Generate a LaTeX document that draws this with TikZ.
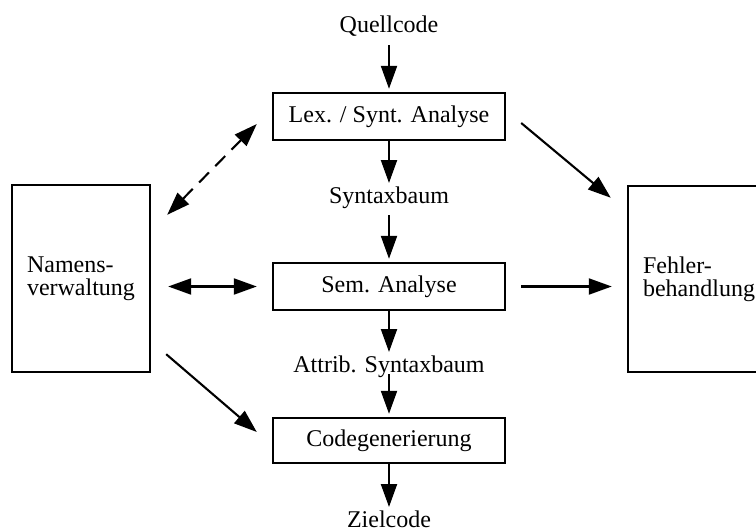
\documentclass[tikz,border=0pt]{standalone}
\usepackage{fontspec}
\setmainfont{Liberation Serif}
\usetikzlibrary{arrows.meta,calc}
\begin{document}
\begin{tikzpicture}[x=1pt,y=-1pt,
  every node/.style={font=\fontsize{24}{23}\selectfont, inner sep=0pt},
  stage/.style={draw, line width=2.4pt, minimum width=232pt, minimum height=47pt},
  side/.style={draw, line width=2.4pt, align=left, minimum height=187pt},
  lbl/.style={anchor=base},
  arr/.style={line width=2.1pt, -{Triangle[length=23pt,width=16pt]}},
  arrboth/.style={line width=2.1pt, {Triangle[length=23pt,width=16pt]}-{Triangle[length=23pt,width=16pt]}},
  dashedarr/.style={arrboth, dash pattern=on 14pt off 9pt}
]
% page frame; the error box runs past the right edge
\clip (0,0) rectangle (756,531);

% compiler phases and intermediate results
\node[lbl] (src) at (389,32) {Quellcode};
\node[stage] (lex) at (389,116.5) {Lex. / Synt. Analyse};
\node[lbl] (ast) at (389,203) {Syntaxbaum};
\node[stage] (sem) at (389,286.5) {Sem. Analyse};
\node[lbl] (attr) at (389,372) {Attrib. Syntaxbaum};
\node[stage, minimum height=45pt] (gen) at (389,440.5) {Codegenerierung};
\node[lbl] (dst) at (389,527) {Zielcode};

% side components
\node[side, minimum width=138pt] (names) at (81,278.5) {Namens-\\verwaltung};
\node[side, minimum width=142pt, minimum height=186pt] (errors) at (699,279) {Fehler-\\behandlung};

% main data flow
\draw[arr] ([yshift=-13pt]src.base) -- ([yshift=3pt]lex.north);
\draw[arr] (lex.south) -- ([yshift=20pt]ast.base);
\draw[arr] ([yshift=-12pt]ast.base) -- ([yshift=3pt]sem.north);
\draw[arr] (sem.south) -- ([yshift=20pt]attr.base);
\draw[arr] ([yshift=-2pt]attr.base) -- ([yshift=3pt]gen.north);
\draw[arr] (gen.south) -- ([yshift=20pt]dst.base);

% symbol table links
\draw[dashedarr] ($(names.north east)+(16,31)$) -- ($(lex.west)+(-15,7.5)$);
\draw[arrboth] ($(names.east |- sem.west)+(17,0)$) -- ($(sem.west)+(-15,0)$);
\draw[arr] ($(names.south east)+(15,-19)$) -- ($(gen.west)+(-15,-8.5)$);

% error reporting
\draw[arr] ($(lex.east)+(15,6.5)$) -- ($(errors.north west)+(-16,13)$);
\draw[arr] ($(sem.east)+(15,0)$) -- ($(errors.west |- sem.east)+(-15,0)$);
\end{tikzpicture}
\end{document}
